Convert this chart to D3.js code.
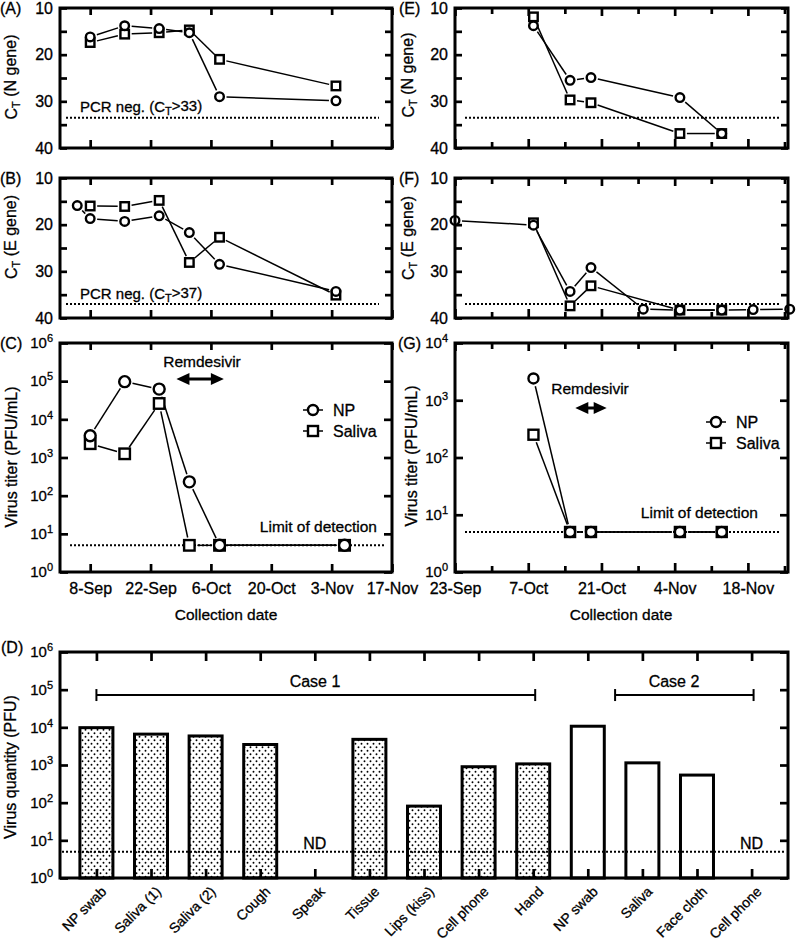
<!DOCTYPE html>
<html><head><meta charset="utf-8">
<script src="https://cdn.jsdelivr.net/npm/d3@7"></script>
<style>body{margin:0;background:#fff} svg text{stroke:#000;stroke-width:0.3px}</style>
</head><body>
<svg id="c" width="796" height="941"></svg>
<script>
// ---------------- DATA ----------------
const leftTickDates = ["2020-09-08","2020-09-22","2020-10-06","2020-10-20","2020-11-03","2020-11-17"];
const rightMajorTickDates = ["2020-09-23","2020-10-07","2020-10-21","2020-11-04","2020-11-18"];
const rightMinorTickDates = ["2020-09-30","2020-10-14","2020-10-28","2020-11-11","2020-11-25"];
const ctTicks = [10,15,20,25,30,35,40];
const ctLabelTicks = [10,20,30,40];
const titerTicksC = [1,10,100,1e3,1e4,1e5,1e6];
const titerTicksG = [1,10,100,1e3,1e4];

// Case 1 (A, B, C)
const c1NGeneDates = ["2020-09-08","2020-09-16","2020-09-24","2020-10-01","2020-10-08","2020-11-04"];
const c1NGeneNP = [16.2, 13.8, 14.4, 15.3, 29.0, 29.9];
const c1NGeneSaliva = [17.4, 15.6, 15.3, 14.7, 21.0, 26.7];

const c1EGeneNPDates = ["2020-09-05","2020-09-08","2020-09-16","2020-09-24","2020-10-01","2020-10-08","2020-11-04"];
const c1EGeneNP = [15.9, 18.7, 19.3, 18.1, 21.7, 28.5, 34.3];
const c1EGeneSalivaDates = ["2020-09-08","2020-09-16","2020-09-24","2020-10-01","2020-10-08","2020-11-04"];
const c1EGeneSaliva = [16.0, 16.1, 14.8, 28.1, 22.7, 35.1];

const c1TiterDates = ["2020-09-08","2020-09-16","2020-09-24","2020-10-01","2020-10-08","2020-11-06"];
const c1TiterNP = [3700, 97000, 62000, 230, 5, 5];
const c1TiterSaliva = [2300, 1250, 26000, 5, 5, 5];
const c1Remdesivir = ["2020-09-28","2020-10-09"];

// Case 2 (E, F, G)
const c2NGeneDates = ["2020-10-08","2020-10-15","2020-10-19","2020-11-05","2020-11-13"];
const c2NGeneNP = [13.8, 25.5, 24.9, 29.2, 36.9];
const c2NGeneSaliva = [11.9, 29.7, 30.3, 36.9, 36.9];

const c2EGeneNPDates = ["2020-09-23","2020-10-08","2020-10-15","2020-10-19","2020-10-29","2020-11-05","2020-11-13","2020-11-19","2020-11-26"];
const c2EGeneNP = [19.1, 20.1, 34.3, 29.2, 38.1, 38.3, 38.3, 38.2, 38.1];
const c2EGeneSalivaDates = ["2020-10-08","2020-10-15","2020-10-19","2020-11-05","2020-11-13"];
const c2EGeneSaliva = [19.6, 37.4, 33.1, 38.3, 38.3];

const c2TiterDates = ["2020-10-08","2020-10-15","2020-10-19","2020-11-05","2020-11-13"];
const c2TiterNP = [2400, 5, 5, 5, 5];
const c2TiterSaliva = [250, 5, 5, 5, 5];
const c2Remdesivir = ["2020-10-16","2020-10-22"];

const nGeneCutoff = 33.5;
const eGeneCutoff = 37;
const detectionLimit = 5;

// Panel D
const dLabels = ["NP swab","Saliva (1)","Saliva (2)","Cough","Speak","Tissue","Lips (kiss)","Cell phone","Hand","NP swab","Saliva","Face cloth","Cell phone"];
const dValues = [9800, 6600, 5900, 3500, null, 4800, 81, 900, 1070, 10700, 1140, 540, null];
const dCase = [1,1,1,1,1,1,1,1,1,2,2,2,2];
const dTicks = [1,10,100,1e3,1e4,1e5,1e6];

// ---------------- DRAWING ----------------
const FONT = "'Liberation Sans', Arial, Helvetica, sans-serif";
const parse = d3.utcParse("%Y-%m-%d");
const fmt = d3.utcFormat("%-d-%b");
const svg = d3.select("#c");

const defs = svg.append("defs");
const pat = defs.append("pattern").attr("id","dots").attr("patternUnits","userSpaceOnUse")
  .attr("width",6).attr("height",7);
pat.append("rect").attr("width",6).attr("height",7).attr("fill","#fff");
pat.append("circle").attr("cx",1.5).attr("cy",1.75).attr("r",0.95).attr("fill","#000");
pat.append("circle").attr("cx",4.5).attr("cy",5.25).attr("r",0.95).attr("fill","#000");

const xL = d3.scaleUtc().domain([parse("2020-09-01"), parse("2020-11-17")]).range([60, 392]);
const xR = d3.scaleUtc().domain([parse("2020-09-23"), new Date(Date.UTC(2020,10,25,16))]).range([455, 788]);

function frame(x0,x1,y0,y1){
  svg.append("rect").attr("x",x0).attr("y",y0).attr("width",x1-x0).attr("height",y1-y0)
    .attr("fill","none").attr("stroke","#000").attr("stroke-width",3);
}
function addAxis(axis, tx, ty, fs){
  const g = svg.append("g").attr("transform",`translate(${tx},${ty})`).call(axis);
  g.attr("font-family",FONT).attr("font-size",fs||15);
  g.select(".domain").remove();
  g.selectAll(".tick line").attr("stroke","#000").attr("stroke-width",2.7);
  g.selectAll(".tick text").attr("fill","#000");
  return g;
}
function supLabels(g){
  g.selectAll(".tick text").each(function(d){
    const t = d3.select(this); const e = Math.round(Math.log10(d));
    t.text(null);
    t.append("tspan").text("10");
    t.append("tspan").attr("dy","-0.55em").attr("font-size","11px").text(e);
  });
}
function text(x,y,str,opts){
  opts = opts||{};
  return svg.append("text").attr("x",x).attr("y",y).attr("font-family",FONT)
    .attr("font-size",opts.size||16).attr("text-anchor",opts.anchor||"start")
    .attr("fill","#000").text(str);
}
function ctTitle(x, yc, gene){
  const t = svg.append("text").attr("transform",`translate(${x},${yc}) rotate(-90)`)
    .attr("font-family",FONT).attr("font-size",16).attr("text-anchor","middle");
  t.append("tspan").text("C");
  t.append("tspan").attr("dy","0.3em").attr("font-size","11px").text("T");
  t.append("tspan").attr("dy","-0.3em").text(` (${gene} gene)`);
}
function rotTitle(x, yc, str){
  svg.append("text").attr("transform",`translate(${x},${yc}) rotate(-90)`)
    .attr("font-family",FONT).attr("font-size",16).attr("text-anchor","middle").text(str);
}
function dotted(x0,x1,y){
  svg.append("line").attr("x1",x0).attr("x2",x1).attr("y1",y).attr("y2",y)
    .attr("stroke","#000").attr("stroke-width",2).attr("stroke-dasharray","2,2");
}
function linesBetween(pts, gap){
  for (let i=0;i<pts.length-1;i++){
    const p=pts[i], q=pts[i+1];
    const dx=q[0]-p[0], dy=q[1]-p[1], L=Math.hypot(dx,dy);
    if (L <= 2*gap+1) continue;
    const ux=dx/L, uy=dy/L;
    svg.append("line").attr("x1",p[0]+ux*gap).attr("y1",p[1]+uy*gap)
      .attr("x2",q[0]-ux*gap).attr("y2",q[1]-uy*gap)
      .attr("stroke","#000").attr("stroke-width",1.5);
  }
}
function squares(pts, s){
  pts.forEach(p=>svg.append("rect").attr("x",p[0]-s/2).attr("y",p[1]-s/2).attr("width",s).attr("height",s)
    .attr("fill","#fff").attr("stroke","#000").attr("stroke-width",2.4));
}
function circles(pts, r){
  pts.forEach(p=>svg.append("circle").attr("cx",p[0]).attr("cy",p[1]).attr("r",r)
    .attr("fill","#fff").attr("stroke","#000").attr("stroke-width",2.4));
}
function series(x, y, npDates, np, salDates, sal, r, s, gap){
  const pNP = npDates.map((d,i)=>[x(parse(d)), y(np[i])]);
  const pS = salDates.map((d,i)=>[x(parse(d)), y(sal[i])]);
  linesBetween(pNP, gap); linesBetween(pS, gap);
  squares(pS, s); circles(pNP, r);
}
function dateAxes(x, y0, y1, left){
  if (left){
    const tv = leftTickDates.map(parse);
    addAxis(d3.axisTop(x).tickValues(tv).tickSize(-7).tickFormat(""), 0, y0);
    return addAxis(d3.axisBottom(x).tickValues(tv).tickSize(-8).tickPadding(11).tickFormat(fmt), 0, y1, 16);
  } else {
    const tv = rightMajorTickDates.map(parse), mv = rightMinorTickDates.map(parse);
    addAxis(d3.axisTop(x).tickValues(tv).tickSize(-8).tickFormat(""), 0, y0);
    addAxis(d3.axisTop(x).tickValues(mv).tickSize(-6).tickFormat(""), 0, y0);
    addAxis(d3.axisBottom(x).tickValues(mv).tickSize(-6).tickFormat(""), 0, y1);
    return addAxis(d3.axisBottom(x).tickValues(tv).tickSize(-9).tickPadding(11).tickFormat(fmt), 0, y1, 16);
  }
}
function ctPanel(x, y, x0, x1, y0, y1, left){
  addAxis(d3.axisLeft(y).tickValues(ctTicks).tickSize(-7).tickPadding(7)
    .tickFormat(d=>ctLabelTicks.includes(d)?d:""), x0, 0, 16);
  addAxis(d3.axisRight(y).tickValues(ctTicks).tickSize(-7).tickFormat(""), x1, 0);
  const g = dateAxes(x, y0, y1, left);
  g.selectAll(".tick text").remove();
}
function titerPanel(x, y, ticks, x0, x1, y0, y1, left){
  const gl = addAxis(d3.axisLeft(y).tickValues(ticks).tickSize(-8).tickPadding(7), x0, 0, 15);
  supLabels(gl);
  addAxis(d3.axisRight(y).tickValues(ticks).tickSize(-8).tickFormat(""), x1, 0);
  dateAxes(x, y0, y1, left);
}
function doubleArrow(x1, x2, y){
  const head = Math.min(13, (x2-x1)/2), h = 6;
  if (x2-x1 > 2*head) svg.append("line").attr("x1",x1+head-1).attr("x2",x2-head+1).attr("y1",y).attr("y2",y)
    .attr("stroke","#000").attr("stroke-width",3);
  svg.append("path").attr("d",`M${x1},${y}L${x1+head},${y-h}L${x1+head},${y+h}Z`).attr("fill","#000");
  svg.append("path").attr("d",`M${x2},${y}L${x2-head},${y-h}L${x2-head},${y+h}Z`).attr("fill","#000");
}
function legend(x, y){
  [["NP","c"],["Saliva","s"]].forEach((d,i)=>{
    const yy = y + i*21;
    svg.append("line").attr("x1",x-10).attr("x2",x+10).attr("y1",yy).attr("y2",yy).attr("stroke","#000").attr("stroke-width",1.5);
    if (d[1]==="c") circles([[x,yy]],5); else squares([[x,yy]],10);
    text(x+20, yy+6, d[0], {size:16});
  });
}

// ---- Panel A ----
const yA = d3.scaleLinear().domain([10,40]).range([8,148]);
ctPanel(xL, yA, 60, 392, 8, 148, true);
dotted(66, 379, yA(nGeneCutoff));
{
  const t = text(80, 112, "PCR neg. (C", {size:15});
  t.append("tspan").attr("dy","0.3em").attr("font-size","11px").text("T");
  t.append("tspan").attr("dy","-0.3em").text(">33)");
}
series(xL, yA, c1NGeneDates, c1NGeneNP, c1NGeneDates, c1NGeneSaliva, 4.3, 8.5, 7);
frame(60, 392, 8, 148);

// ---- Panel B ----
const yB = d3.scaleLinear().domain([10,40]).range([178,318]);
ctPanel(xL, yB, 60, 392, 178, 318, true);
dotted(66, 379, yB(eGeneCutoff));
{
  const t = text(80, 299, "PCR neg. (C", {size:15});
  t.append("tspan").attr("dy","0.3em").attr("font-size","11px").text("T");
  t.append("tspan").attr("dy","-0.3em").text(">37)");
}
series(xL, yB, c1EGeneNPDates, c1EGeneNP, c1EGeneSalivaDates, c1EGeneSaliva, 4.3, 8.5, 7);
frame(60, 392, 178, 318);

// ---- Panel C ----
const yC = d3.scaleLog().domain([1,1e6]).range([572,343]);
titerPanel(xL, yC, titerTicksC, 60, 392, 343, 572, true);
dotted(70, 384, yC(detectionLimit));
text(377, 532, "Limit of detection", {size:15.5, anchor:"end"});
text(202, 367, "Remdesivir", {size:15.5, anchor:"middle"});
doubleArrow(xL(parse(c1Remdesivir[0])), xL(parse(c1Remdesivir[1])), 379);
legend(313, 410);
series(xL, yC, c1TiterDates, c1TiterNP, c1TiterDates, c1TiterSaliva, 5.5, 10.5, 8);
frame(60, 392, 343, 572);
text(226, 620, "Collection date", {size:15.5, anchor:"middle"});

// ---- Panel E ----
const yE = d3.scaleLinear().domain([10,40]).range([8,148]);
ctPanel(xR, yE, 455, 788, 8, 148, false);
dotted(465, 779, yE(nGeneCutoff));
series(xR, yE, c2NGeneDates, c2NGeneNP, c2NGeneDates, c2NGeneSaliva, 4.3, 8.5, 7);
frame(455, 788, 8, 148);

// ---- Panel F ----
const yF = d3.scaleLinear().domain([10,40]).range([178,318]);
ctPanel(xR, yF, 455, 788, 178, 318, false);
dotted(465, 779, yF(eGeneCutoff));
series(xR, yF, c2EGeneNPDates, c2EGeneNP, c2EGeneSalivaDates, c2EGeneSaliva, 4.3, 8.5, 7);
frame(455, 788, 178, 318);

// ---- Panel G ----
const yG = d3.scaleLog().domain([1,1e4]).range([572,343]);
titerPanel(xR, yG, titerTicksG, 455, 788, 343, 572, false);
dotted(465, 779, yG(detectionLimit));
text(758, 518, "Limit of detection", {size:15.5, anchor:"end"});
text(590, 394, "Remdesivir", {size:15.5, anchor:"middle"});
doubleArrow(xR(parse(c2Remdesivir[0])), xR(parse(c2Remdesivir[1])), 408);
legend(716, 422);
series(xR, yG, c2TiterDates, c2TiterNP, c2TiterDates, c2TiterSaliva, 5, 10, 8);
frame(455, 788, 343, 572);
text(621, 620, "Collection date", {size:15.5, anchor:"middle"});

// ---- Panel D ----
const xD = d3.scalePoint().domain(d3.range(dLabels.length)).range([60,788]).padding(0.667);
const yD = d3.scaleLog().domain([1,1e6]).range([878,652]);
const gdl = addAxis(d3.axisLeft(yD).tickValues(dTicks).tickSize(-8).tickPadding(7), 60, 0, 15);
supLabels(gdl);
addAxis(d3.axisRight(yD).tickValues(dTicks).tickSize(-8).tickFormat(""), 788, 0);
addAxis(d3.axisTop(xD).tickSize(-9).tickFormat(""), 0, 652);
const bw = 33;
dValues.forEach((v,i)=>{
  if (v == null) return;
  svg.append("rect").attr("x", xD(i)-bw/2).attr("y", yD(v)).attr("width", bw).attr("height", yD(1)-yD(v))
    .attr("fill", dCase[i]===1 ? "url(#dots)" : "#fff").attr("stroke","#000").attr("stroke-width",3);
});
const gdb = addAxis(d3.axisBottom(xD).tickSize(-9).tickFormat(i=>dLabels[i]), 0, 878, 14);
gdb.selectAll(".tick text").attr("y",0).attr("dy","0.35em")
  .attr("transform","translate(7,11) rotate(-45)").attr("text-anchor","end");
dotted(62, 785, yD(detectionLimit));
dValues.forEach((v,i)=>{ if (v == null) text(xD(i), 849, "ND", {size:16, anchor:"middle"}); });
function bracketX(xa, xb){
  const yb = yD(7.2e4);
  svg.append("line").attr("x1",xa).attr("x2",xb).attr("y1",yb).attr("y2",yb).attr("stroke","#000").attr("stroke-width",2);
  [xa,xb].forEach(xx=>svg.append("line").attr("x1",xx).attr("x2",xx).attr("y1",yb-6).attr("y2",yb+6).attr("stroke","#000").attr("stroke-width",2));
}
bracketX(xD(0), xD(8)+2);
text(315, 687, "Case 1", {size:16, anchor:"middle"});
bracketX((xD(9)+xD(10))/2, xD(12)+2);
text(674, 687, "Case 2", {size:16, anchor:"middle"});
frame(60, 788, 652, 878);
rotTitle(16, 767, "Virus quantity (PFU)");

// ---- titles and panel labels ----
ctTitle(17, 77, "N"); ctTitle(17, 237, "E");
rotTitle(17, 457, "Virus titer (PFU/mL)");
ctTitle(414, 75, "N"); ctTitle(414, 238, "E");
rotTitle(417, 456, "Virus titer (PFU/mL)");
text(0, 14, "(A)"); text(0, 184, "(B)"); text(0, 349, "(C)"); text(1, 653, "(D)");
text(399, 14, "(E)"); text(399, 184, "(F)"); text(398, 349, "(G)");
</script>
</body></html>
